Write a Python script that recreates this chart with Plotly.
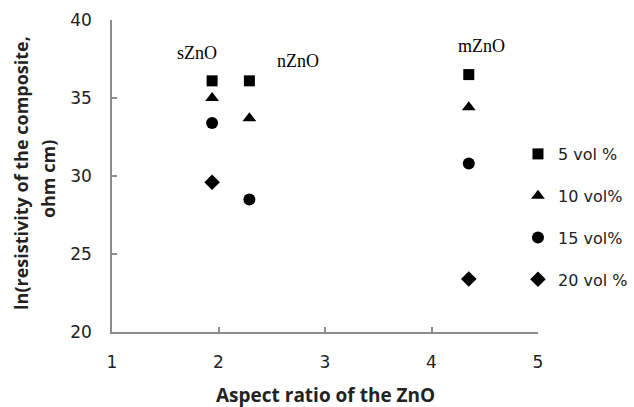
import plotly.graph_objects as go

# Aspect ratios of the three ZnO fillers
fillers = ["sZnO", "nZnO", "mZnO"]
aspect_ratio = [1.94, 2.29, 4.35]

# ln(resistivity) per loading level, one value per filler (None = not measured)
vol5 = [36.1, 36.1, 36.5]
vol10 = [35.0, 33.7, 34.4]
vol15 = [33.4, 28.5, 30.8]
vol20 = [29.6, None, 23.4]

series_names = ["5 vol %", "10 vol%", "15 vol%", "20 vol %"]
series_values = [vol5, vol10, vol15, vol20]
series_symbols = ["square", "triangle-up", "circle", "diamond"]
series_sizes = [11, 12, 12, 12]

# Filler label positions (x, y in data units)
label_x = [1.80, 2.75, 4.47]
label_y = [37.9, 37.4, 38.35]

fig = go.Figure()
for name, vals, sym, sz in zip(series_names, series_values, series_symbols, series_sizes):
    xs = [x for x, v in zip(aspect_ratio, vals) if v is not None]
    ys = [v for v in vals if v is not None]
    fig.add_trace(go.Scatter(
        x=xs, y=ys, mode="markers", name=name, legendgroup=name,
        marker=dict(symbol=sym, size=sz, color="black"),
    ))

for lab, lx, ly in zip(fillers, label_x, label_y):
    fig.add_annotation(x=lx, y=ly, text=lab, showarrow=False,
                       font=dict(family="Liberation Serif", size=18, color="black"))

axis_style = dict(
    showline=True, linecolor="#8c8c8c", linewidth=1.5,
    ticks="inside", ticklen=5, tickcolor="#8c8c8c", tickwidth=1.5,
    showgrid=False, zeroline=False,
    tickfont=dict(family="DejaVu Sans", size=17, color="#222"),
)

fig.update_xaxes(range=[1, 5], dtick=1, ticklabelstandoff=14, **axis_style)
fig.update_yaxes(range=[20, 40], dtick=5, ticklabelstandoff=15, **axis_style)

# Axis titles
fig.add_annotation(xref="paper", yref="paper", x=0.5, y=0, yshift=-63,
                   yanchor="middle", text="<b>Aspect ratio of the ZnO</b>",
                   showarrow=False,
                   font=dict(family="Open Sans", size=19, color="#222"))
ytitle_font = dict(family="Open Sans", size=18, color="#222")
fig.add_annotation(xref="paper", yref="paper", x=0, xshift=-91, y=0.51,
                   xanchor="center", text="<b>ln(resistivity of the composite,</b>",
                   showarrow=False, textangle=-90, font=ytitle_font)
fig.add_annotation(xref="paper", yref="paper", x=0, xshift=-64, y=0.49,
                   xanchor="center", text="<b>ohm cm)</b>",
                   showarrow=False, textangle=-90, font=ytitle_font)

fig.update_layout(
    width=634, height=407,
    margin=dict(l=112, r=96, t=20, b=75, autoexpand=False),
    paper_bgcolor="white", plot_bgcolor="white",
    showlegend=True,
    legend=dict(x=0.953, y=0.625, xanchor="left", yanchor="top",
                tracegroupgap=18, itemwidth=30,
                font=dict(family="DejaVu Sans", size=16, color="#222"),
                bgcolor="rgba(0,0,0,0)"),
)

fig.write_html("out.html")
